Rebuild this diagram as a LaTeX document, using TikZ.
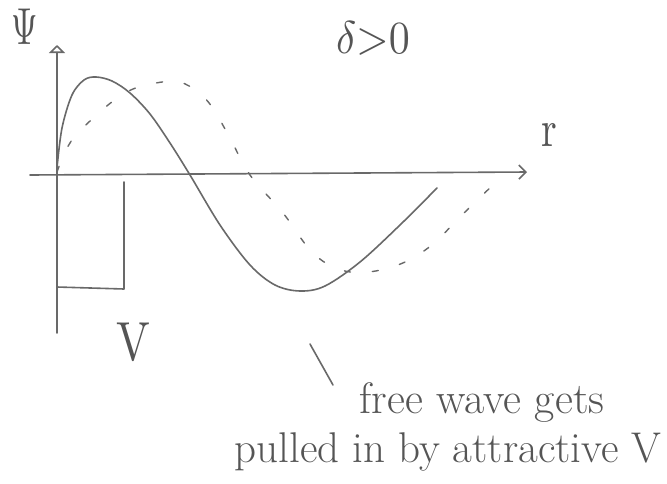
\documentclass[tikz,border=0pt]{standalone}
\usetikzlibrary{arrows.meta}
\definecolor{pencil}{RGB}{105,105,105}
\definecolor{ink}{RGB}{85,85,85}
\tikzset{
  pen/.style={draw=pencil,line width=1.6pt,line cap=round,line join=round},
  freewave/.style={draw=pencil,line width=1.4pt,line cap=round,dash pattern=on 6pt off 22pt},
  hand/.style={text=ink,inner sep=0pt},
}
\begin{document}
\begin{tikzpicture}[x=1pt,y=-1pt]
\useasboundingbox[fill=white] (0,0) rectangle (667,483);
% axes
\coordinate (ybot) at (57,333);
\coordinate (ytop) at (57,45);
\coordinate (xl) at (30,175);
\coordinate (xr) at (527,172);
\draw[pen,-{Triangle[open,length=8pt,width=16pt]}] (ybot) -- (ytop);
\draw[pen,-{Straight Barb[length=7pt,width=14pt]}] (xl) -- (xr);
\node[hand] (psi) at (25,27) {\scalebox{3.4}[5.2]{$\Psi$}};
\node[hand] (r) at (549,135) {\scalebox{4}[5.2]{r}};
\node[hand] (delta) at (373,38) {\scalebox{4.2}[4.6]{$\delta{>}0$}};
% well
\coordinate (w1) at (124,182);
\coordinate (w2) at (124,289);
\coordinate (w3) at (57,287);
\draw[pen] (w1) -- (w2) -- (w3);
\node[hand] (V) at (133,342) {\scalebox{4.5}[5.5]{V}};
% free wave (dashed)
\draw[freewave] plot[smooth,tension=0.6] coordinates {(57,172) (66,150) (78,133) (108,105) (133,89) (162,82) (180,82) (198,92) (212,107) (230,138) (250,175) (283,213) (315,255) (350,272) (392,267) (428,248) (465,212) (495,183)};
% solid wave
\draw[pen] plot[smooth,tension=0.55] coordinates {(57,168) (62,128) (72,95) (84,80) (96,77) (112,81) (130,93) (150,114) (170,143) (190,175) (220,225) (250,265) (275,285) (300,291) (325,286) (360,262) (400,225) (437,188)};
% annotation
\node[hand,font=\fontsize{44}{44}\selectfont] (t1) at (482,403) {free wave gets};
\node[hand,font=\fontsize{43}{43}\selectfont] (t2) at (448,452) {pulled in by attractive V};
\coordinate (p1) at (333,385);
\coordinate (p2) at (310,344);
\draw[pen] (p1) -- (p2);
\end{tikzpicture}
\end{document}
